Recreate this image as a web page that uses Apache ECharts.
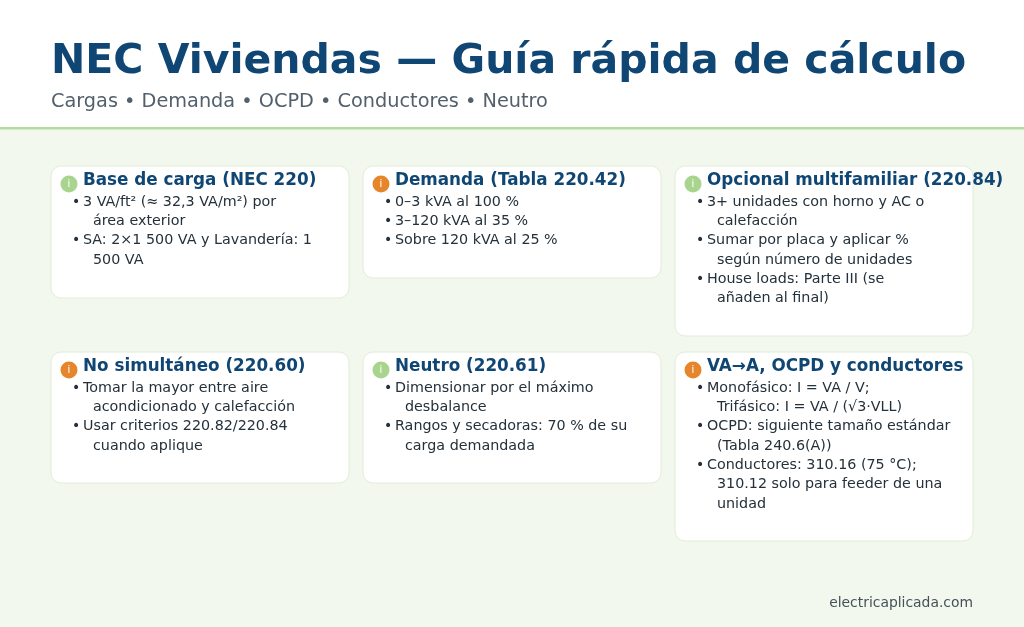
<!DOCTYPE html>
<html><head><meta charset="utf-8">
<script src="https://cdn.jsdelivr.net/npm/echarts@6/dist/echarts.min.js"></script>
<style>html,body{margin:0;padding:0}#main{width:1024px;height:627px}</style>
</head><body><div id="main"></div>
<script>
const title = 'NEC Viviendas — Guía rápida de cálculo'
const subtitle = 'Cargas • Demanda • OCPD • Conductores • Neutro'
const footer = 'electricaplicada.com'
const cardTitles = ['Base de carga (NEC 220)', 'Demanda (Tabla 220.42)', 'Opcional multifamiliar (220.84)',
  'No simultáneo (220.60)', 'Neutro (220.61)', 'VA→A, OCPD y conductores']
const cardIcons = ['green', 'orange', 'green', 'orange', 'green', 'orange']
// each bullet is a list of wrapped lines
const cardBullets = [
  [['3 VA/ft² (≈ 32,3 VA/m²) por', 'área exterior'], ['SA: 2×1 500 VA y Lavandería: 1', '500 VA']],
  [['0–3 kVA al 100 %'], ['3–120 kVA al 35 %'], ['Sobre 120 kVA al 25 %']],
  [['3+ unidades con horno y AC o', 'calefacción'], ['Sumar por placa y aplicar %', 'según número de unidades'], ['House loads: Parte III (se', 'añaden al final)']],
  [['Tomar la mayor entre aire', 'acondicionado y calefacción'], ['Usar criterios 220.82/220.84', 'cuando aplique']],
  [['Dimensionar por el máximo', 'desbalance'], ['Rangos y secadoras: 70 % de su', 'carga demandada']],
  [['Monofásico: I = VA / V;', 'Trifásico: I = VA / (√3·VLL)'], ['OCPD: siguiente tamaño estándar', '(Tabla 240.6(A))'], ['Conductores: 310.16 (75 °C);', '310.12 solo para feeder de una', 'unidad']]
]
const cardBottoms = [298, 278, 336, 483, 483, 541]

const font = 'DejaVu Sans'
const iconColor = { green: '#a9d48e', orange: '#e5862c' }
const els = [
  { type: 'rect', shape: { x: 0, y: 0, width: 1024, height: 627 }, style: { fill: '#f3f8ee' } },
  { type: 'rect', shape: { x: 0, y: 0, width: 1024, height: 128 }, style: { fill: '#ffffff' } },
  { type: 'rect', shape: { x: 0, y: 127, width: 1024, height: 2.5 }, style: { fill: '#b3dba0' } },
  { type: 'text', x: 51, y: 62, style: { text: title, font: 'bold 41px ' + font, fill: '#0f4673', verticalAlign: 'middle' } },
  { type: 'text', x: 51, y: 102, style: { text: subtitle, font: '19.3px ' + font, fill: '#53606c', verticalAlign: 'middle' } },
  { type: 'text', x: 973, y: 603, style: { text: footer, font: '13.9px ' + font, fill: '#45505a', align: 'right', verticalAlign: 'middle' } }
]
cardTitles.forEach((t, i) => {
  const x = 51 + (i % 3) * 312
  const y = i < 3 ? 166 : 352
  els.push({ type: 'rect', shape: { x: x, y: y, width: 298, height: cardBottoms[i] - y, r: 10 },
    style: { fill: '#ffffff', stroke: '#e2ecd9', lineWidth: 1 } })
  els.push({ type: 'circle', shape: { cx: x + 18, cy: y + 18, r: 8.5 }, style: { fill: iconColor[cardIcons[i]] } })
  els.push({ type: 'text', x: x + 18, y: y + 18, style: { text: 'i', font: '10px ' + font, fill: '#ffffff', align: 'center', verticalAlign: 'middle' } })
  els.push({ type: 'text', x: x + 32, y: y + 15, style: { text: t, font: 'bold 16.8px ' + font, fill: '#0f4673', verticalAlign: 'middle' } })
  let ly = y + 36
  cardBullets[i].forEach(b => {
    els.push({ type: 'text', x: x + 21, y: ly, style: { text: '•', font: '14px ' + font, fill: '#24303a', verticalAlign: 'middle' } })
    b.forEach((ln, k) => {
      els.push({ type: 'text', x: x + (k === 0 ? 32 : 42), y: ly, style: { text: ln, font: '14.3px ' + font, fill: '#24303a', verticalAlign: 'middle' } })
      ly += 19.3
    })
  })
})
const chart = echarts.init(document.getElementById('main'))
chart.setOption({ animation: false, graphic: { elements: els } })
</script></body></html>
